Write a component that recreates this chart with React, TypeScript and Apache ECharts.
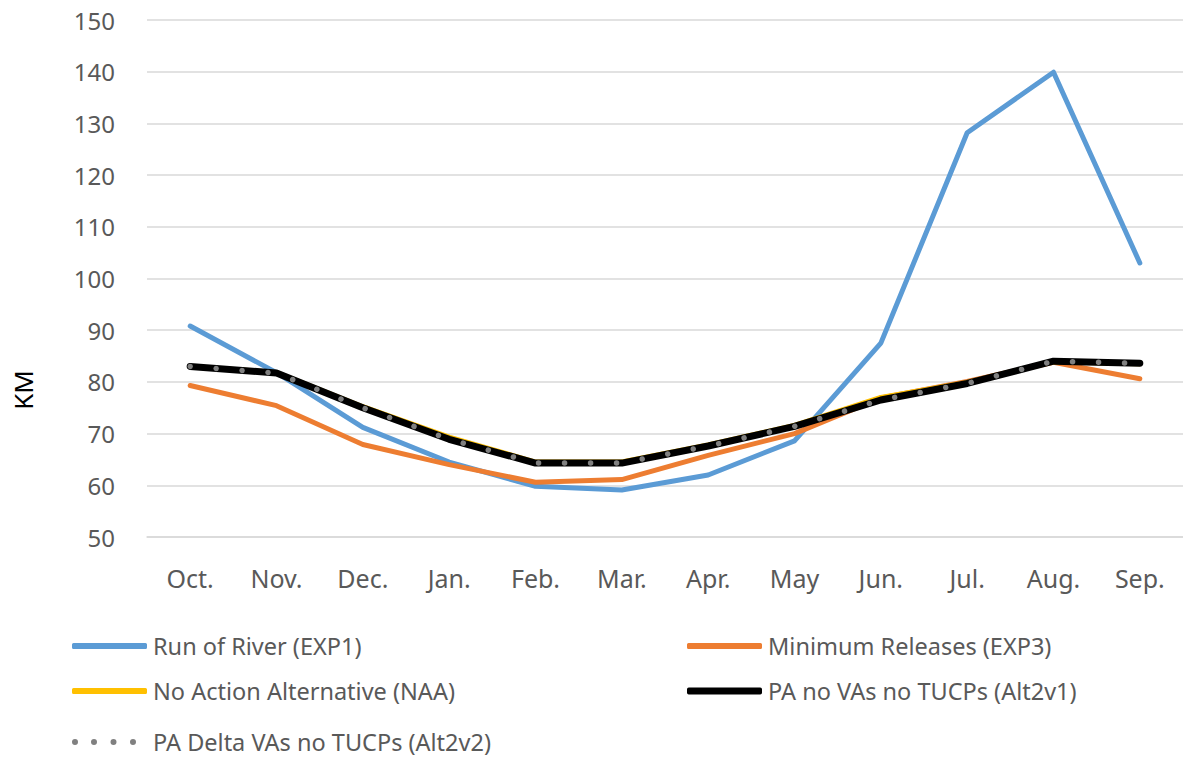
import React, { useEffect, useRef } from "react";
import * as echarts from "echarts";

const months = ["Oct.", "Nov.", "Dec.", "Jan.", "Feb.", "Mar.", "Apr.", "May", "Jun.", "Jul.", "Aug.", "Sep."];
const runOfRiver = [90.8, 81.8, 71.2, 64.5, 59.8, 59.1, 62.0, 68.6, 87.5, 128.2, 139.9, 103.0];
const minReleases = [79.3, 75.4, 67.9, 64.0, 60.6, 61.1, 65.8, 70.0, 76.9, 80.1, 83.8, 80.6];
const naa = [83.0, 81.8, 75.2, 69.3, 64.5, 64.5, 67.8, 71.6, 77.0, 79.9, 83.9, 83.5];
const alt2v1 = [83.0, 81.7, 75.0, 68.9, 64.3, 64.3, 67.6, 71.4, 76.5, 79.7, 84.0, 83.6];
const alt2v2 = [83.0, 81.7, 75.0, 68.9, 64.3, 64.3, 67.6, 71.4, 76.5, 79.7, 84.0, 83.6];
const yTicks = { min: 50, max: 150, interval: 10 };

const names = [
  "Run of River (EXP1)",
  "Minimum Releases (EXP3)",
  "No Action Alternative (NAA)",
  "PA no VAs no TUCPs (Alt2v1)",
  "PA Delta VAs no TUCPs (Alt2v2)",
];

const FONT = "'Noto Sans', 'Open Sans', sans-serif";
const DOTS =
  "path://M0,3a3,3 0 1,0 6,0a3,3 0 1,0 -6,0Z M19,3a3,3 0 1,0 6,0a3,3 0 1,0 -6,0Z M38.5,3a3,3 0 1,0 6,0a3,3 0 1,0 -6,0Z M58,3a3,3 0 1,0 6,0a3,3 0 1,0 -6,0Z";

export default function App() {
  const ref = useRef<HTMLDivElement>(null);
  useEffect(() => {
    document.body.style.margin = "0";
    const chart = echarts.init(ref.current!, null, { renderer: "svg" });
    const mkLegend = (
      name: string,
      left: number,
      top: number,
      icon: string,
      w: number,
      h: number,
      padLeft: number
    ) => ({
      data: [{ name, icon }],
      left,
      top,
      padding: 0,
      itemWidth: w,
      itemHeight: h,
      selectedMode: false,
      textStyle: {
        color: "#595959",
        fontSize: 23.5,
        lineHeight: 24,
        fontFamily: FONT,
        padding: [0, 0, 0, padLeft],
      },
    });
    chart.setOption({
      animation: false,
      backgroundColor: "#ffffff",
      grid: { left: 147, right: 0, top: 20, bottom: 220 },
      legend: [
        mkLegend(names[0], 72, 634, "roundRect", 75, 6, 1),
        mkLegend(names[1], 687, 634, "roundRect", 75, 6, 1),
        mkLegend(names[2], 72, 679, "roundRect", 75, 6, 1),
        mkLegend(names[3], 687, 679, "roundRect", 75, 7, 1),
        mkLegend(names[4], 72, 730, DOTS, 64, 6, 12),
      ],
      graphic: [
        {
          type: "text",
          x: 23,
          y: 390,
          rotation: Math.PI / 2,
          style: {
            text: "KM",
            fill: "#000000",
            fontSize: 26,
            fontFamily: FONT,
            align: "center",
            verticalAlign: "middle",
          },
        },
      ],
      xAxis: {
        type: "category",
        data: months,
        boundaryGap: true,
        axisLine: { show: true, lineStyle: { color: "#d9d9d9", width: 1.5 } },
        axisTick: { show: false },
        axisLabel: { color: "#595959", fontSize: 25, fontFamily: FONT, margin: 28 },
      },
      yAxis: {
        type: "value",
        min: yTicks.min,
        max: yTicks.max,
        interval: yTicks.interval,
        axisLine: { show: false },
        axisTick: { show: false },
        splitLine: { lineStyle: { color: "#d9d9d9", width: 1.5 } },
        axisLabel: { color: "#595959", fontSize: 24, fontFamily: FONT, margin: 32 },
      },
      series: [
        {
          name: names[0],
          type: "line",
          data: runOfRiver,
          symbol: "none",
          lineStyle: { color: "#5b9bd5", width: 5, cap: "round", join: "round" },
          itemStyle: { color: "#5b9bd5" },
          z: 2,
        },
        {
          name: names[1],
          type: "line",
          data: minReleases,
          symbol: "none",
          lineStyle: { color: "#ed7d31", width: 5, cap: "round", join: "round" },
          itemStyle: { color: "#ed7d31" },
          z: 3,
        },
        {
          name: names[2],
          type: "line",
          data: naa,
          symbol: "none",
          lineStyle: { color: "#ffc000", width: 5, cap: "round", join: "round" },
          itemStyle: { color: "#ffc000" },
          z: 4,
        },
        {
          name: names[3],
          type: "line",
          data: alt2v1,
          symbol: "none",
          lineStyle: { color: "#000000", width: 7, cap: "round", join: "round" },
          itemStyle: { color: "#000000" },
          z: 5,
        },
        {
          name: names[4],
          type: "line",
          data: alt2v2,
          symbol: "none",
          lineStyle: { color: "#808080", width: 5.5, type: [0.01, 26], cap: "round", join: "round" },
          itemStyle: { color: "#808080" },
          z: 6,
        },
      ],
    });
    return () => chart.dispose();
  }, []);
  return <div ref={ref} style={{ width: 1183, height: 757 }} />;
}
